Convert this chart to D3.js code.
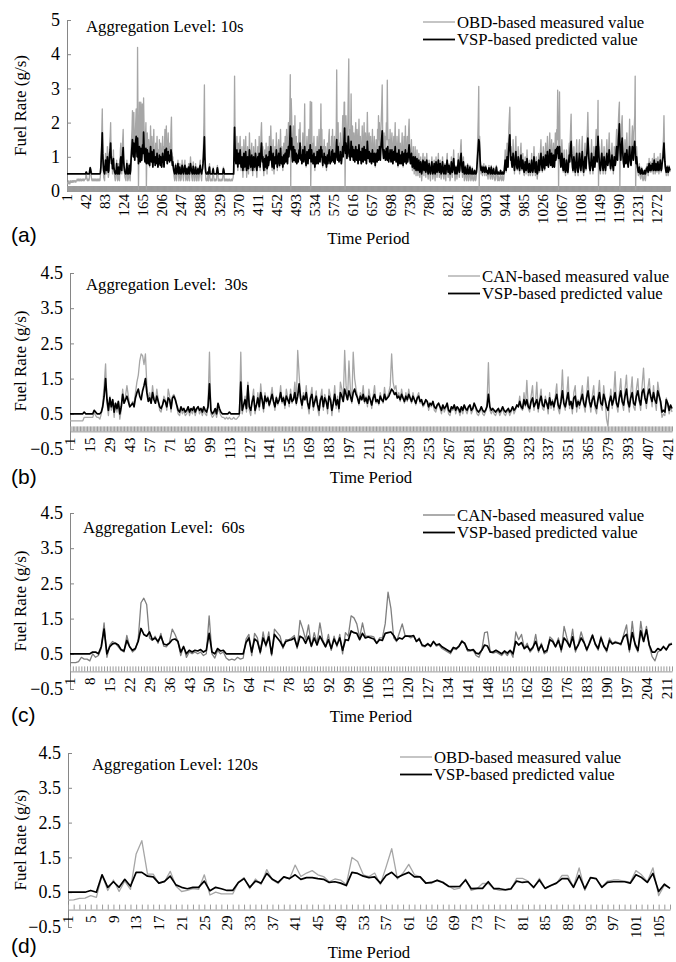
<!DOCTYPE html>
<html>
<head>
<meta charset="utf-8">
<script src="https://cdn.jsdelivr.net/npm/d3@7"></script>
<style>
  body { margin: 0; background: #fff; }
  svg { display: block; }
</style>
</head>
<body>
<svg id="chart" width="676" height="962"></svg>
<script>
// ---- data ----
const aPredicted = [
  0.5,0.5,0.5,0.5,0.5,0.5,0.5,0.5,0.5,0.5,0.5,0.5,0.5,0.5,0.5,0.5,0.5,0.5,0.5,0.5,
  0.5,0.5,0.5,0.5,0.5,0.5,0.5,0.5,0.5,0.5,0.5,0.5,0.5,0.5,0.5,0.5,0.5,0.5,0.5,0.5,
  0.5,0.55,0.55,0.5,0.5,0.5,0.5,0.5,0.5,0.6,0.68,0.62,0.55,0.5,0.5,0.5,0.5,0.5,0.5,0.5,
  0.5,0.5,0.5,0.5,0.5,0.5,0.5,0.5,0.5,0.5,0.5,0.5,0.55,0.7,1.0,1.3,1.7,1.1,0.8,0.6,
  0.55,0.5,0.7,0.9,0.75,0.6,0.8,1.0,0.7,0.55,0.6,0.9,1.1,1.2,1.4,1.0,0.8,0.9,0.65,0.75,
  0.95,0.7,0.6,0.55,0.5,0.5,0.6,0.8,0.6,0.5,0.55,0.7,0.5,0.5,0.6,0.9,1.0,0.75,0.6,0.9,
  1.1,1.27,0.9,0.7,0.6,0.55,0.5,0.5,0.65,0.8,0.6,0.5,0.5,0.6,0.75,0.55,0.5,0.6,0.9,1.1,
  1.3,1.5,1.2,1.0,1.4,1.1,0.9,1.2,1.45,1.6,1.3,1.0,1.55,1.2,0.8,1.0,1.3,1.1,0.85,1.25,
  1.0,0.9,1.2,1.35,1.1,1.72,1.3,1.0,0.85,1.1,1.25,0.8,0.9,1.2,1.0,0.8,1.1,0.9,0.75,1.0,
  1.3,1.0,0.85,1.15,0.9,0.7,1.0,1.2,0.85,0.95,0.75,1.0,0.8,0.9,1.1,0.85,0.7,0.95,0.8,1.05,
  0.9,0.75,1.0,0.85,0.7,0.9,1.1,0.85,0.95,0.7,1.0,1.2,0.9,1.1,1.25,0.95,0.8,1.0,1.15,0.9,
  1.05,0.85,1.0,0.9,1.2,1.1,0.9,0.75,0.85,0.7,0.6,0.55,0.5,0.6,0.75,0.55,0.5,0.55,0.65,0.8,
  0.6,0.5,0.55,0.7,0.6,0.5,0.5,0.6,0.75,0.65,0.55,0.5,0.6,0.7,0.75,0.6,0.5,0.55,0.65,0.5,
  0.5,0.6,0.7,0.55,0.5,0.65,0.8,0.7,0.6,0.55,0.5,0.6,0.72,0.6,0.5,0.5,0.55,0.7,0.6,0.5,
  0.5,0.55,0.65,0.6,0.5,0.55,0.7,0.75,0.6,0.55,0.5,0.6,0.65,0.8,1.0,1.3,1.58,1.0,0.7,0.55,
  0.5,0.5,0.5,0.55,0.5,0.5,0.65,0.7,0.55,0.5,0.5,0.5,0.5,0.5,0.6,0.65,0.55,0.5,0.5,0.5,
  0.5,0.5,0.5,0.6,0.68,0.6,0.5,0.5,0.5,0.5,0.5,0.5,0.5,0.5,0.5,0.5,0.55,0.65,0.6,0.5,
  0.5,0.5,0.5,0.5,0.5,0.5,0.5,0.5,0.5,0.5,0.5,0.5,0.5,0.5,0.5,0.5,0.5,0.5,0.5,0.5,
  1.2,1.86,1.3,0.9,0.8,1.0,1.2,0.9,0.7,1.1,0.95,0.8,1.05,1.2,0.9,0.7,0.85,1.0,0.75,0.6,
  0.8,1.1,0.9,0.7,0.95,1.15,0.85,0.6,0.75,1.0,0.8,0.65,0.9,1.2,1.0,0.8,0.7,0.9,1.05,0.8,
  0.6,0.75,1.0,0.9,0.7,0.85,1.1,0.95,0.7,0.6,0.8,1.0,0.75,0.9,1.1,0.85,0.7,0.95,1.2,1.4,
  1.1,0.85,1.0,0.75,0.6,0.8,0.95,0.7,0.85,1.05,0.8,0.65,0.9,1.0,0.75,0.85,1.15,0.9,1.0,1.3,
  1.05,0.85,0.7,0.95,1.1,0.8,0.65,0.9,1.0,0.8,0.95,1.2,0.9,0.7,0.85,1.0,1.1,0.85,0.75,1.0,
  1.25,0.95,0.8,1.0,0.85,0.7,0.9,1.05,0.8,0.95,1.1,0.85,1.0,1.2,0.9,0.8,1.1,1.3,1.0,1.2,
  1.5,1.9,1.4,1.2,1.55,1.0,0.85,1.1,1.3,0.9,1.0,1.2,0.85,0.95,1.1,0.8,0.9,1.05,0.85,1.0,
  1.2,0.95,1.4,1.1,0.9,1.05,0.8,0.95,1.2,1.0,0.85,1.1,1.3,1.0,0.9,0.75,1.0,1.15,0.9,0.8,
  1.0,1.2,0.95,1.1,1.35,1.0,0.85,1.2,0.9,1.05,0.8,0.95,1.1,0.85,0.7,0.9,1.0,0.8,0.95,1.15,
  0.9,0.8,1.0,1.2,0.95,0.85,1.05,1.3,1.0,1.2,0.9,0.75,1.0,0.85,1.1,0.9,0.8,1.0,0.85,0.7,
  0.9,1.05,0.8,0.95,1.1,1.2,0.9,0.8,1.0,0.85,1.15,0.9,1.2,1.0,0.85,0.95,1.1,0.8,0.9,1.0,
  1.2,1.5,1.1,0.9,1.3,1.0,0.85,1.05,0.9,1.15,1.0,0.8,0.95,1.1,1.3,1.0,1.2,1.5,1.84,1.3,
  1.1,1.4,1.2,0.95,1.1,1.3,1.6,1.4,1.0,1.2,0.9,1.1,1.45,1.2,1.0,1.3,1.1,0.9,1.2,1.0,
  0.85,1.15,1.3,1.0,0.9,1.2,1.05,0.8,1.1,1.35,1.0,0.9,1.15,0.95,0.8,1.0,1.25,1.0,0.85,1.1,
  1.3,1.05,0.9,1.2,1.0,0.8,1.1,1.45,1.2,0.95,1.0,1.15,0.85,0.95,1.1,0.9,0.8,1.0,1.2,0.95,
  0.85,1.0,1.1,0.9,0.75,0.95,1.1,1.0,0.85,1.2,1.0,0.9,1.1,1.3,1.05,0.9,1.2,1.4,1.55,1.76,
  1.3,1.1,0.95,1.2,1.0,1.15,0.9,1.05,1.25,1.1,0.9,1.3,1.0,0.85,1.1,0.95,1.2,1.0,0.85,1.05,
  1.2,0.95,0.8,1.0,1.15,0.9,1.1,1.3,1.0,0.85,0.95,1.1,0.9,0.75,1.0,1.2,0.95,0.8,1.05,0.9,
  0.8,1.0,1.15,0.9,0.75,0.95,1.1,0.85,1.0,1.2,0.9,0.8,1.0,1.1,0.85,1.0,1.2,1.35,1.1,0.9,
  0.8,0.95,1.1,0.85,0.7,0.9,1.0,0.8,0.65,0.85,1.0,0.75,0.6,0.8,0.95,0.7,0.6,0.75,0.9,0.7,
  0.55,0.7,0.85,0.65,0.5,0.6,0.8,0.9,0.7,0.6,0.75,0.85,0.65,0.55,0.7,0.9,0.75,0.6,0.5,0.65,
  0.8,0.7,0.55,0.5,0.6,0.75,0.85,0.65,0.5,0.55,0.7,0.8,0.6,0.5,0.65,0.85,0.7,0.55,0.6,0.75,
  0.9,0.7,0.55,0.6,0.8,0.65,0.5,0.55,0.7,0.85,0.7,0.55,0.5,0.6,0.75,0.6,0.5,0.65,0.8,0.9,
  0.7,0.55,0.6,0.75,0.6,0.5,0.5,0.65,0.85,0.7,0.55,0.6,0.8,0.95,0.75,0.6,0.5,0.55,0.7,0.6,
  0.5,0.6,0.75,0.9,0.7,0.55,0.6,0.8,1.0,1.1,0.85,0.65,0.55,0.7,0.85,0.6,0.5,0.55,0.7,0.6,
  0.5,0.5,0.6,0.75,0.55,0.5,0.5,0.6,0.7,0.55,0.5,0.5,0.55,0.65,0.5,0.5,0.5,0.55,0.6,0.5,
  0.5,0.5,0.55,0.7,0.9,1.1,1.3,1.5,1.45,1.2,0.9,0.7,0.6,0.65,0.7,0.55,0.6,0.65,0.7,0.6,
  0.55,0.6,0.7,0.65,0.55,0.6,0.55,0.5,0.6,0.68,0.6,0.55,0.5,0.6,0.7,0.55,0.5,0.5,0.6,0.65,
  0.55,0.5,0.5,0.5,0.6,0.7,0.6,0.5,0.5,0.55,0.5,0.5,0.5,0.55,0.6,0.5,0.5,0.5,0.55,0.5,
  0.5,0.5,0.6,0.75,0.9,0.7,0.6,0.8,1.0,0.85,0.7,1.1,1.3,1.5,1.64,1.2,0.9,1.0,0.8,0.7,
  0.85,1.1,0.9,0.75,0.6,0.8,1.0,1.15,0.85,0.7,0.65,0.8,1.0,0.85,0.7,0.6,0.75,0.95,1.05,0.8,
  0.65,0.7,0.9,0.75,0.6,0.55,0.7,0.85,0.7,0.6,0.75,0.95,0.8,0.65,0.55,0.6,0.8,0.7,0.55,0.6,
  0.75,0.9,0.7,0.55,0.6,0.8,1.0,0.85,0.65,0.55,0.7,0.85,0.6,0.5,0.55,0.7,0.9,0.75,0.6,0.8,
  0.95,1.1,0.85,0.7,0.6,0.8,1.0,0.9,0.7,0.65,0.85,1.05,0.9,0.75,0.95,1.15,0.9,0.7,0.85,1.0,
  1.2,0.9,0.75,0.95,1.1,0.85,0.7,0.9,1.05,0.8,0.7,0.95,1.2,0.9,1.0,1.25,1.1,1.3,1.2,0.95,
  1.1,1.3,1.0,0.85,0.7,0.9,1.1,0.95,0.7,0.6,0.8,0.95,0.75,0.6,0.55,0.7,0.9,0.8,0.6,0.55,
  0.7,0.9,1.05,0.85,1.1,1.3,1.45,1.1,0.9,0.7,0.6,0.8,1.0,0.85,0.65,0.55,0.7,0.9,1.1,0.8,
  0.6,0.55,0.7,0.95,1.1,0.9,0.7,0.6,0.8,1.0,1.15,0.85,0.65,0.55,0.7,0.9,1.0,0.8,0.65,0.9,
  1.1,1.25,1.55,1.3,1.0,0.8,0.65,0.6,0.75,0.9,1.1,0.85,0.7,0.6,0.8,1.0,0.9,0.7,0.85,1.1,
  1.3,1.0,0.85,1.2,1.6,1.3,1.0,0.8,0.65,0.6,0.75,0.95,1.1,0.9,0.7,0.6,0.8,1.0,0.85,0.7,
  0.6,0.75,0.95,1.1,0.9,0.75,0.85,1.0,1.2,0.95,0.8,0.65,0.75,0.9,1.05,0.85,0.7,0.6,0.8,1.0,
  0.9,0.75,0.85,1.1,1.3,1.1,0.9,1.2,1.5,1.7,1.96,1.4,1.1,0.9,1.2,1.4,1.55,1.2,0.95,0.8,
  0.7,0.9,1.1,0.95,0.8,1.0,1.2,1.0,0.8,0.7,0.9,1.1,1.3,1.0,0.85,0.75,0.95,1.15,1.3,1.1,
  0.9,1.2,1.3,1.45,1.2,0.95,0.8,1.0,0.85,0.7,0.6,0.55,0.6,0.7,0.6,0.5,0.5,0.55,0.65,0.6,
  0.5,0.5,0.5,0.55,0.6,0.5,0.5,0.55,0.65,0.6,0.7,0.6,0.55,0.7,0.8,0.65,0.6,0.75,0.6,0.65,
  0.7,0.8,0.65,0.6,0.75,0.9,0.7,0.6,0.65,0.8,0.75,0.6,0.7,0.85,0.7,0.6,0.65,0.75,0.9,0.7,
  0.6,0.65,0.8,0.9,1.0,1.2,1.4,1.1,0.85,0.7,0.6,0.55,0.65,0.7,0.6,0.55,0.6,0.7,0.65,0.6
];
const aMeasured = [
  0.25,0.25,0.2,0.25,0.3,0.25,0.2,0.25,0.3,0.25,0.25,0.3,0.25,0.3,0.3,0.25,0.3,0.3,0.3,0.25,
  0.3,0.3,0.35,0.3,0.3,0.35,0.3,0.3,0.35,0.3,0.35,0.3,0.3,0.35,0.35,0.3,0.35,0.3,0.35,0.35,
  0.35,0.5,0.45,0.35,0.3,0.35,0.35,0.3,0.35,0.55,0.7,0.6,0.45,0.35,0.3,0.35,0.3,0.35,0.3,0.35,
  0.3,0.35,0.3,0.35,0.3,0.3,0.35,0.3,0.35,0.3,0.35,0.3,0.45,0.8,1.2,1.8,2.4,1.3,0.7,0.4,
  0.35,0.3,0.7,1.1,0.8,0.5,0.9,1.3,0.7,0.4,0.5,1.0,1.4,1.6,2.0,1.2,0.8,1.0,0.5,0.8,
  1.2,0.7,0.5,0.4,0.3,0.35,0.6,0.9,0.5,0.3,0.4,0.8,0.35,0.3,0.6,1.2,1.4,0.8,0.5,1.1,
  1.5,1.8,1.1,0.7,0.5,0.4,0.35,0.3,0.6,0.9,0.5,0.3,0.35,0.5,0.8,0.4,0.3,0.6,1.2,1.5,
  1.8,2.35,1.6,1.2,2.3,1.4,1.0,1.6,2.0,2.4,1.8,1.1,4.2,2.0,0.05,1.2,2.6,1.5,0.9,2.6,
  1.2,1.0,2.55,2.0,1.3,2.72,1.9,1.2,0.9,1.5,2.0,0.05,1.0,1.7,1.3,0.8,1.5,1.1,0.7,1.3,
  1.9,1.3,0.9,1.6,1.1,0.7,1.3,1.8,1.0,1.2,0.8,1.4,0.9,1.1,1.6,1.0,0.7,1.2,0.9,1.5,
  1.1,0.8,1.4,1.0,0.7,1.1,1.6,1.0,1.3,0.7,1.4,1.8,1.1,1.5,1.9,1.2,0.9,1.3,1.7,1.1,
  1.4,1.0,1.3,1.1,1.8,2.16,1.2,0.8,1.0,0.7,0.5,0.4,0.3,0.5,0.8,0.4,0.3,0.45,0.7,0.9,
  0.6,0.3,0.4,0.8,0.6,0.3,0.35,0.6,0.9,0.7,0.4,0.3,0.6,0.8,0.9,0.5,0.3,0.45,0.7,0.35,
  0.3,0.6,0.8,0.4,0.3,0.7,1.0,0.8,0.55,0.4,0.3,0.6,0.85,0.5,0.3,0.3,0.45,0.8,0.6,0.3,
  0.3,0.45,0.7,0.55,0.3,0.45,0.8,0.9,0.55,0.4,0.3,0.6,0.7,1.0,1.4,2.0,3.1,1.3,0.6,0.35,
  0.3,0.3,0.35,0.45,0.3,0.3,0.7,0.8,0.4,0.3,0.3,0.35,0.3,0.3,0.55,0.7,0.45,0.3,0.3,0.35,
  0.3,0.3,0.35,0.55,0.75,0.55,0.3,0.3,0.35,0.3,0.3,0.3,0.35,0.3,0.3,0.35,0.45,0.7,0.55,0.3,
  0.3,0.35,0.3,0.3,0.35,0.3,0.3,0.35,0.3,0.3,0.35,0.3,0.3,0.3,0.35,0.3,0.3,0.35,0.4,0.6,
  1.6,3.36,1.8,1.0,0.8,1.3,1.6,1.0,0.6,1.4,1.1,0.8,1.3,1.6,1.0,0.6,0.9,1.3,0.7,0.4,
  0.8,1.5,1.0,0.6,1.1,1.6,0.9,0.4,0.7,1.3,0.8,0.5,1.0,1.7,1.2,0.8,0.6,1.0,1.4,0.8,
  0.45,0.7,1.3,1.0,0.6,0.9,1.5,1.1,0.6,0.4,0.8,1.3,0.7,1.0,1.6,0.9,0.6,1.1,1.7,2.0,
  1.4,0.9,1.3,0.7,0.45,0.8,1.2,0.6,0.9,1.4,0.8,0.5,1.0,1.3,0.7,0.9,1.6,1.0,1.3,1.9,
  1.4,0.9,0.6,1.1,1.5,0.8,0.5,1.0,1.3,0.8,1.1,1.7,1.0,0.6,0.9,1.3,1.5,0.9,0.7,1.3,
  1.8,1.2,0.8,1.3,0.9,0.6,1.0,1.4,0.8,1.1,1.6,0.9,1.3,1.8,1.0,0.8,1.5,2.0,1.2,1.7,
  2.3,3.4,0.05,2.7,2.2,1.2,0.9,1.5,1.9,1.0,1.2,2.2,0.9,1.1,1.6,0.8,1.0,1.4,0.9,1.3,
  1.8,1.1,2.0,1.4,1.0,1.3,0.8,1.1,1.7,1.2,0.9,1.5,2.55,1.2,1.0,0.7,1.3,1.6,1.0,0.8,
  1.3,1.8,1.1,1.5,2.62,0.05,0.9,2.6,1.0,1.4,0.8,1.1,1.6,0.9,0.6,1.0,1.3,0.8,1.1,1.6,
  1.0,0.8,1.3,1.8,1.1,0.9,1.4,2.55,1.2,1.8,1.0,0.7,1.3,0.9,1.5,1.0,0.8,1.3,0.9,0.6,
  1.0,1.4,0.8,1.1,1.6,1.8,1.0,0.8,1.3,0.9,1.6,1.0,1.8,1.2,0.9,1.1,1.6,0.8,1.0,1.4,
  1.8,3.54,1.4,1.0,2.0,1.2,0.9,1.4,1.0,1.7,1.2,0.8,1.1,1.6,2.2,1.2,1.8,2.6,2.6,0.05,
  1.4,2.2,1.7,1.0,1.4,2.0,3.0,3.86,1.2,1.8,1.0,1.5,2.84,1.6,1.1,1.9,1.4,0.9,1.7,1.2,
  0.9,1.6,2.0,1.2,1.0,1.8,1.4,0.8,1.5,2.1,1.2,1.0,1.6,1.1,0.8,1.3,1.9,1.2,0.9,1.5,
  2.0,1.3,1.0,1.7,1.2,0.8,1.5,2.3,1.6,1.1,1.2,1.7,0.9,1.1,1.6,1.0,0.8,1.3,1.8,1.1,
  0.9,1.2,1.6,1.0,0.7,1.1,1.5,1.2,0.9,1.8,1.3,2.2,1.5,2.0,1.3,1.0,1.7,2.1,2.5,3.1,
  1.8,1.4,1.1,1.7,1.3,1.6,1.0,1.4,2.0,1.5,3.24,1.9,1.2,0.9,1.5,1.1,1.8,1.2,0.9,1.4,
  1.7,1.1,0.8,1.3,1.6,1.0,1.5,2.0,1.2,0.9,1.1,1.6,1.0,0.7,1.3,1.8,1.1,0.8,1.4,1.0,
  0.8,1.3,1.7,1.0,0.7,1.1,1.6,0.9,1.2,1.9,1.0,0.8,1.3,1.6,0.9,1.2,1.8,2.1,1.4,1.0,
  0.8,1.1,1.5,0.9,0.6,1.0,1.3,0.8,0.5,0.9,1.3,0.7,0.45,0.8,1.2,0.6,0.45,0.7,1.1,0.6,
  0.4,0.7,1.0,0.6,0.3,0.5,0.9,1.1,0.6,0.45,0.8,1.0,0.6,0.4,0.7,1.1,0.8,0.5,0.35,0.6,
  0.9,0.7,0.4,0.3,0.6,0.8,1.0,0.6,0.35,0.45,0.7,0.9,0.5,0.3,0.65,1.0,0.7,0.4,0.5,0.8,
  1.1,0.7,0.4,0.5,0.9,0.6,0.35,0.45,0.75,1.0,0.7,0.4,0.35,0.55,0.8,0.55,0.3,0.6,0.9,1.1,
  0.7,0.4,0.55,0.8,0.55,0.3,0.35,0.6,1.0,0.75,0.4,0.55,0.9,1.2,0.8,0.5,0.3,0.45,0.75,0.5,
  0.35,0.55,0.8,1.1,0.7,0.4,0.55,0.9,1.3,1.5,1.0,0.6,0.4,0.7,1.0,0.55,0.3,0.45,0.75,0.5,
  0.35,0.3,0.55,0.8,0.45,0.3,0.35,0.55,0.75,0.45,0.3,0.35,0.5,0.7,0.35,0.3,0.3,0.45,0.6,0.35,
  0.3,0.35,0.5,0.8,1.2,1.6,2.2,3.06,0.05,1.6,1.0,0.7,0.5,0.6,0.75,0.45,0.55,0.7,0.8,0.55,
  0.45,0.55,0.75,0.65,0.45,0.55,0.5,0.35,0.55,0.75,0.55,0.45,0.35,0.55,0.75,0.45,0.35,0.35,0.55,0.7,
  0.45,0.35,0.3,0.35,0.55,0.75,0.55,0.35,0.3,0.45,0.35,0.3,0.35,0.45,0.6,0.35,0.3,0.35,0.45,0.35,
  0.3,0.35,0.6,0.9,1.2,0.8,0.55,1.0,1.4,1.0,0.7,1.5,1.9,2.2,2.45,1.5,1.0,1.3,0.9,0.7,
  1.0,1.5,1.1,0.8,0.5,0.9,1.3,1.6,1.0,0.7,0.6,0.9,1.3,1.0,0.7,0.5,0.8,1.2,1.4,0.9,
  0.6,0.7,1.1,0.8,0.5,0.45,0.7,1.0,0.7,0.5,0.8,1.2,0.9,0.6,0.45,0.55,0.9,0.7,0.45,0.55,
  0.8,1.1,0.7,0.45,0.55,0.9,1.3,1.0,0.6,0.45,0.7,1.0,0.55,0.35,0.5,0.75,1.1,0.8,0.55,0.9,
  1.2,1.5,1.0,0.7,0.55,0.9,1.3,1.1,0.7,0.6,1.0,1.4,1.1,0.8,1.2,1.6,1.1,0.7,1.0,1.3,
  1.7,1.1,0.8,1.2,1.5,1.0,0.7,1.1,1.4,0.9,0.7,1.2,1.7,1.1,1.3,1.8,1.5,2.95,1.8,0.05,
  1.5,2.9,1.3,1.0,0.7,1.1,1.5,1.2,0.7,0.55,0.9,1.2,0.8,0.55,0.45,0.75,1.2,1.0,0.6,0.5,
  0.75,1.2,1.4,1.0,1.5,1.9,2.25,1.4,1.0,0.7,0.55,0.9,1.3,1.0,0.6,0.45,0.75,1.2,1.5,0.9,
  0.55,0.45,0.75,1.3,1.5,1.1,0.7,0.55,0.9,1.3,1.6,1.0,0.6,0.45,0.75,1.2,1.4,0.9,0.6,1.1,
  1.5,1.8,2.3,1.7,1.2,0.9,0.6,0.5,0.8,1.1,1.5,1.0,0.7,0.5,0.9,1.3,1.1,0.7,1.0,1.5,
  1.8,1.2,0.9,1.7,2.65,0.05,1.3,0.9,0.6,0.5,0.8,1.2,1.5,1.1,0.7,0.5,0.9,1.3,1.0,0.7,
  0.5,0.8,1.2,1.5,1.1,0.8,1.0,1.3,1.7,1.2,0.9,0.6,0.8,1.1,1.4,1.0,0.7,0.5,0.9,1.3,
  1.1,0.8,1.0,1.5,1.8,1.4,1.1,1.6,2.1,2.4,2.6,0.05,1.3,1.0,1.6,2.0,2.2,1.5,1.1,0.8,
  0.7,1.1,1.5,1.2,0.9,1.3,1.7,1.3,0.9,0.7,1.1,1.5,2.1,1.3,1.0,0.8,1.2,1.6,1.9,1.4,
  1.0,1.7,1.9,2.2,3.36,0.05,0.9,1.3,1.0,0.7,0.55,0.45,0.6,0.8,0.6,0.4,0.35,0.45,0.7,0.6,
  0.35,0.3,0.35,0.45,0.6,0.35,0.3,0.45,0.7,0.6,0.8,0.55,0.45,0.75,0.95,0.65,0.55,0.85,0.55,0.65,
  0.75,0.95,0.6,0.5,0.8,1.1,0.7,0.5,0.6,0.95,0.8,0.55,0.7,1.0,0.7,0.5,0.6,0.8,1.1,0.7,
  0.55,0.65,0.9,1.1,1.3,1.6,2.2,1.4,0.9,0.7,0.55,0.45,0.65,0.75,0.55,0.45,0.55,0.75,0.65,0.55
];

const bPredicted = [
  0.5,0.5,0.5,0.5,0.5,0.5,0.5,0.5,0.5,0.5,0.55,0.5,0.5,0.5,0.5,0.5,0.5,0.6,0.55,0.5,
  0.5,0.5,0.55,0.7,1.0,1.5,0.9,0.6,0.95,0.7,0.9,0.55,0.8,0.65,0.85,0.5,0.7,1.05,0.8,0.9,
  1.0,0.85,0.7,0.75,0.8,0.7,0.95,1.1,1.2,1.0,0.9,1.15,1.3,1.5,1.1,0.85,0.95,0.8,1.1,0.9,
  0.8,1.0,0.85,0.7,0.65,0.75,0.9,0.85,0.7,0.95,0.9,0.65,0.95,1.0,0.9,0.75,0.6,0.55,0.7,0.6,
  0.65,0.55,0.6,0.7,0.55,0.65,0.6,0.7,0.55,0.65,0.7,0.6,0.65,0.55,0.7,0.6,0.55,0.7,1.35,0.6,
  0.5,0.55,0.65,0.5,0.8,0.65,0.55,0.5,0.5,0.5,0.5,0.5,0.55,0.5,0.5,0.5,0.5,0.5,0.5,0.5,
  1.4,0.6,0.75,0.9,0.65,1.3,0.7,0.6,0.85,1.0,0.6,0.75,0.95,0.7,1.1,0.9,0.65,1.0,0.85,0.95,
  0.75,0.9,1.05,0.85,0.7,0.95,0.8,0.9,1.1,0.85,0.95,0.75,1.0,0.9,0.8,1.05,0.85,0.9,1.1,0.8,
  1.0,1.35,0.95,0.75,1.0,0.9,1.1,0.8,0.65,0.95,1.05,0.7,0.85,1.0,0.75,0.6,0.9,1.0,0.7,0.95,
  0.85,0.65,1.0,0.9,0.6,0.8,1.05,0.75,0.9,0.65,1.1,1.0,0.85,1.2,1.05,0.9,1.15,1.0,0.85,1.1,
  1.2,1.05,0.95,0.8,1.0,0.9,1.05,0.85,0.95,0.8,1.0,0.9,0.75,0.95,1.05,0.85,0.9,0.8,1.0,0.9,
  0.85,1.05,0.9,0.95,1.0,1.1,1.2,1.15,1.05,1.1,0.95,1.0,0.9,1.05,0.95,0.85,1.0,0.9,1.05,0.95,
  0.85,1.0,0.9,0.8,0.95,1.0,0.85,0.9,0.75,0.8,0.9,0.85,0.7,0.8,0.75,0.85,0.7,0.65,0.75,0.8,
  0.7,0.6,0.75,0.65,0.7,0.8,0.6,0.55,0.7,0.65,0.75,0.6,0.7,0.65,0.55,0.7,0.6,0.75,0.65,0.6,
  0.7,0.75,0.6,0.65,0.8,0.7,0.6,0.55,0.6,0.7,0.6,0.55,0.6,0.7,1.05,0.7,0.6,0.65,0.6,0.55,
  0.6,0.65,0.55,0.6,0.7,0.6,0.55,0.6,0.65,0.55,0.6,0.7,0.6,0.65,0.75,0.7,0.85,0.7,0.65,0.9,
  0.75,0.9,0.7,0.65,0.85,0.95,0.7,0.8,0.9,0.65,0.85,1.0,0.75,0.7,0.9,0.8,0.65,0.95,0.75,0.85,
  0.7,0.9,1.05,0.75,0.65,0.85,1.15,0.8,0.7,0.9,1.1,0.75,0.85,0.65,0.95,1.0,0.7,0.85,0.75,0.9,
  1.05,0.8,0.7,0.95,1.15,0.85,0.7,0.9,1.0,0.75,0.65,0.9,1.1,0.8,0.75,1.05,0.9,0.7,0.6,0.85,
  1.0,0.75,0.9,1.1,0.8,0.7,0.95,1.15,0.85,0.75,1.0,1.2,0.85,0.7,0.95,1.1,0.8,0.75,1.0,1.15,
  0.9,0.75,1.1,1.2,0.95,0.8,1.05,1.2,1.0,0.85,1.1,0.9,0.8,1.15,1.0,0.85,0.55,0.6,0.55,0.9,
  0.8,0.6,0.75,0.65
];
const bMeasured = [
  0.3,0.3,0.3,0.3,0.3,0.3,0.3,0.3,0.3,0.3,0.4,0.4,0.4,0.4,0.4,0.4,0.4,0.55,0.45,0.4,
  0.4,0.35,0.5,0.8,1.3,1.92,0.8,0.45,1.0,0.6,0.9,0.4,0.8,0.55,0.85,0.35,0.6,1.2,0.8,1.0,
  1.3,1.0,0.7,0.75,0.85,0.8,1.1,1.4,1.6,2.0,2.2,2.15,1.9,2.2,1.3,0.9,1.1,0.8,1.3,0.95,
  0.8,1.2,0.9,0.6,0.55,0.75,1.0,0.9,0.6,1.2,1.0,0.55,1.0,1.05,0.95,0.7,0.5,0.45,0.65,0.5,
  0.6,0.45,0.5,0.7,0.45,0.6,0.5,0.65,0.45,0.6,0.7,0.5,0.6,0.45,0.65,0.5,0.45,0.8,2.25,0.5,
  0.4,0.45,0.6,0.4,0.65,0.55,0.45,0.4,0.4,0.35,0.4,0.35,0.4,0.35,0.35,0.4,0.35,0.35,0.4,0.45,
  2.25,0.5,0.7,1.0,0.55,1.4,0.6,0.45,0.9,1.2,0.5,0.75,1.1,0.6,1.35,0.9,0.55,1.1,0.8,1.0,
  0.7,0.95,1.25,0.85,0.6,1.0,0.75,0.9,1.3,0.8,1.0,0.65,1.2,0.95,0.7,1.2,0.8,0.95,1.4,0.75,
  2.3,1.6,1.0,0.65,1.1,0.9,1.3,0.75,0.5,1.0,1.25,0.6,0.85,1.15,0.65,0.45,0.95,1.2,0.6,1.05,
  0.9,0.5,1.2,1.0,0.45,0.8,1.3,0.65,1.0,0.55,1.4,1.2,0.85,2.3,1.3,0.9,2.0,1.2,0.8,2.25,
  1.5,1.2,1.0,0.75,1.1,0.9,1.3,0.8,1.0,0.7,1.2,0.95,0.65,1.0,1.3,0.8,0.9,0.75,1.1,0.9,
  0.8,1.25,0.9,1.0,1.1,1.3,2.2,1.4,1.2,1.3,0.95,1.1,0.85,1.2,0.95,0.8,1.1,0.85,1.2,0.95,
  0.8,1.1,0.9,0.75,1.0,1.1,0.8,0.9,0.7,0.75,0.9,0.85,0.6,0.75,0.7,0.85,0.6,0.55,0.7,0.8,
  0.65,0.5,0.75,0.55,0.65,0.8,0.5,0.45,0.65,0.6,0.75,0.5,0.65,0.6,0.45,0.65,0.5,0.75,0.6,0.5,
  0.65,0.75,0.5,0.6,0.8,0.65,0.5,0.45,0.55,0.7,0.5,0.45,0.55,0.8,1.95,0.6,0.5,0.6,0.5,0.45,
  0.55,0.6,0.45,0.55,0.65,0.5,0.45,0.55,0.6,0.45,0.55,0.7,0.5,0.6,0.75,0.7,1.0,0.65,0.6,1.1,
  0.7,1.45,0.65,0.55,1.0,1.3,0.6,0.8,1.4,0.55,0.9,1.2,0.65,0.6,1.0,0.8,0.5,1.1,0.65,0.9,
  0.6,1.0,1.35,0.65,0.5,0.9,1.75,0.75,0.6,1.0,1.55,0.65,0.85,0.5,1.1,1.3,0.55,0.9,0.65,1.0,
  1.3,0.75,0.55,1.05,1.55,0.8,0.55,1.0,1.3,0.65,0.5,1.0,1.45,0.75,0.6,1.3,0.9,0.35,0.15,0.8,
  1.2,0.65,1.0,1.7,0.75,0.55,1.1,1.5,0.8,0.6,1.2,1.6,0.8,0.55,1.1,1.55,0.7,0.6,1.2,1.5,
  0.85,0.6,1.3,1.8,1.0,0.65,1.2,1.5,1.0,0.7,1.3,0.85,0.6,1.4,1.1,0.7,0.4,0.5,0.45,0.95,
  0.75,0.5,0.7,0.55
];

const cPredicted = [
  0.5,0.5,0.5,0.5,0.5,0.5,0.5,0.5,0.55,0.55,0.5,0.7,1.2,0.5,0.7,0.78,0.8,0.75,0.62,0.58,
  0.88,0.7,0.6,0.65,0.85,1.22,1.05,1.0,1.12,0.9,0.95,0.85,1.0,0.78,0.75,0.8,0.9,0.92,0.85,0.55,
  0.7,0.5,0.6,0.55,0.6,0.58,0.62,0.55,0.6,1.08,0.55,0.5,0.65,0.58,0.6,0.5,0.5,0.5,0.5,0.5,
  0.5,0.5,0.82,0.95,0.55,0.92,0.85,0.55,0.95,0.75,0.98,0.5,1.05,0.95,0.85,0.7,0.85,0.88,0.9,0.95,
  0.7,1.0,0.95,0.8,1.0,0.72,0.95,0.75,1.0,0.85,0.7,0.9,0.65,0.92,0.75,0.95,0.6,0.9,0.88,1.15,
  1.1,1.08,0.9,1.08,0.95,0.98,0.95,0.92,0.8,0.9,0.88,1.08,1.1,1.12,1.02,0.88,0.95,0.92,1.0,1.0,
  1.0,1.02,0.85,0.92,0.75,0.72,0.78,0.72,0.85,0.75,0.78,0.7,0.65,0.6,0.55,0.68,0.65,0.72,0.85,0.8,
  0.62,0.6,0.62,0.52,0.5,0.6,0.75,0.72,0.55,0.55,0.6,0.55,0.5,0.58,0.52,0.6,0.5,0.85,0.75,0.82,
  0.65,0.72,0.6,0.68,0.85,0.6,0.75,0.55,0.6,0.9,0.85,0.7,0.88,0.62,0.95,0.85,0.7,0.98,0.62,0.75,
  0.95,0.82,0.62,0.8,1.02,0.78,0.65,0.95,0.72,0.6,0.88,0.78,0.82,0.8,0.78,0.98,1.05,0.62,1.1,0.78,
  0.6,1.15,0.85,1.18,0.75,0.55,0.55,0.65,0.6,0.7,0.62,0.75,0.78
];
const cMeasured = [
  0.25,0.25,0.25,0.28,0.4,0.35,0.35,0.3,0.5,0.4,0.45,0.65,1.38,0.4,0.75,0.85,0.8,0.7,0.6,0.55,
  1.02,0.7,0.55,0.62,0.9,1.95,2.08,1.9,0.95,0.88,1.0,0.8,1.08,0.72,0.7,0.82,1.2,1.05,0.85,0.45,
  0.72,0.4,0.55,0.5,0.55,0.5,0.55,0.45,0.5,1.58,0.5,0.38,0.6,0.5,0.55,0.38,0.32,0.35,0.32,0.4,
  0.35,0.38,0.92,1.05,0.45,1.08,0.95,0.5,1.12,0.7,1.12,0.45,1.2,1.1,1.0,0.65,0.9,0.9,0.95,1.02,
  0.65,1.45,1.2,0.9,1.32,0.7,1.1,0.8,1.38,0.9,0.7,1.05,0.6,1.0,0.7,1.05,0.5,1.1,1.0,1.58,
  1.52,1.35,0.95,1.38,1.0,1.0,1.0,0.98,0.8,0.95,0.95,1.35,2.25,1.8,0.95,0.85,1.1,1.35,1.02,1.0,
  0.95,1.0,0.85,0.95,0.72,0.7,0.8,0.7,0.85,0.72,0.75,0.65,0.6,0.55,0.5,0.65,0.62,0.7,0.88,0.78,
  0.58,0.58,0.6,0.45,0.4,0.6,1.1,1.12,0.55,0.52,0.55,0.5,0.45,0.55,0.45,0.58,0.4,1.12,0.9,1.05,
  0.65,0.8,0.55,0.65,1.05,0.55,0.8,0.5,0.55,0.98,0.9,0.7,0.95,0.55,1.28,0.95,0.68,1.2,0.55,0.78,
  1.12,0.85,0.58,0.85,1.05,0.75,0.6,1.0,0.7,0.55,0.95,0.8,0.85,0.82,0.75,1.05,1.32,0.55,1.42,0.72,
  0.55,1.42,0.85,1.28,0.72,0.42,0.3,0.55,0.6,0.72,0.6,0.78,0.8
];

const dPredicted = [
  0.5,0.5,0.5,0.5,0.55,0.5,1.0,0.64,0.8,0.64,0.87,0.67,1.07,1.07,0.96,0.94,0.76,0.81,0.96,0.71,
  0.64,0.6,0.64,0.64,0.82,0.54,0.64,0.6,0.55,0.55,0.78,0.89,0.64,0.82,0.76,1.04,0.87,0.78,0.94,0.89,
  1.0,0.87,0.92,0.92,0.89,0.87,0.78,0.8,0.76,0.69,1.07,1.04,0.96,0.92,0.94,0.76,0.98,1.07,0.92,1.0,
  1.07,0.94,0.94,0.76,0.78,0.84,0.78,0.67,0.66,0.67,0.85,0.6,0.61,0.61,0.8,0.6,0.6,0.57,0.6,0.82,
  0.78,0.8,0.64,0.85,0.61,0.69,0.76,0.89,0.89,0.64,0.98,0.6,0.92,0.89,0.64,0.78,0.8,0.8,0.8,0.76,
  1.0,0.92,0.78,1.04,0.52,0.73,0.61
];
const dMeasured = [
  0.27,0.28,0.32,0.33,0.4,0.35,1.0,0.55,0.85,0.52,0.82,0.58,1.6,1.98,1.02,1.02,0.75,0.8,1.1,0.68,
  0.52,0.55,0.6,0.58,1.0,0.42,0.5,0.45,0.45,0.45,0.78,0.92,0.6,0.88,0.72,1.15,0.85,0.75,0.95,0.88,
  1.28,0.95,1.05,1.12,1.0,0.95,0.8,0.88,0.85,0.72,1.5,1.38,1.0,0.95,1.05,0.72,1.22,1.75,0.88,1.05,
  1.3,1.0,0.95,0.78,0.75,0.85,0.8,0.68,0.58,0.62,0.88,0.55,0.6,0.75,0.75,0.6,0.55,0.55,0.58,0.9,
  0.9,0.82,0.62,0.9,0.62,0.68,0.75,0.98,0.98,0.65,1.2,0.55,0.92,0.88,0.65,0.82,0.85,0.85,0.82,0.78,
  1.12,1.0,0.8,1.2,0.4,0.7,0.62
];

const yTicksA = [0, 1, 2, 3, 4, 5];
const yTicksBCD = [-0.5, 0.5, 1.5, 2.5, 3.5, 4.5];

// ---- layout ----
const serif = "'Liberation Serif', 'Times New Roman', serif";
const sans = "'Liberation Sans', Arial, sans-serif";
const axisGray = "#868686";
const textSize = 16.7;

const panels = [
  { tag: "(a)", level: "Aggregation Level: 10s", measLabel: "OBD-based measured value",
    measured: aMeasured, predicted: aPredicted, yDomain: [0, 5], yTicks: yTicksA,
    x0: 67, x1: 670, yTop: 20, yBottom: 191, labelEvery: 41, labelGap: 3, measColor: "#a6a6a6",
    aggX: 86, aggY: 32, legX: 423, legY: 22, timeY: 244, tagY: 242 },
  { tag: "(b)", level: "Aggregation Level:  30s", measLabel: "CAN-based measured value",
    measured: bMeasured, predicted: bPredicted, yDomain: [-0.5, 4.5], yTicks: yTicksBCD,
    x0: 70, x1: 672, yTop: 273, yBottom: 449, labelEvery: 14, labelGap: 6, measColor: "#a6a6a6",
    aggX: 86, aggY: 290, legX: 448, legY: 276, timeY: 483, tagY: 484 },
  { tag: "(c)", level: "Aggregation Level:  60s", measLabel: "CAN-based measured value",
    measured: cMeasured, predicted: cPredicted, yDomain: [-0.5, 4.5], yTicks: yTicksBCD,
    x0: 70, x1: 672, yTop: 513, yBottom: 689, labelEvery: 7, labelGap: 6, measColor: "#7f7f7f",
    aggX: 83, aggY: 533, legX: 423, legY: 515, timeY: 722, tagY: 722 },
  { tag: "(d)", level: "Aggregation Level: 120s", measLabel: "OBD-based measured value",
    measured: dMeasured, predicted: dPredicted, yDomain: [-0.5, 4.5], yTicks: yTicksBCD,
    x0: 68, x1: 670, yTop: 753, yBottom: 927, labelEvery: 4, labelGap: 6, measColor: "#a6a6a6",
    aggX: 92, aggY: 770, legX: 400, legY: 757, timeY: 958, tagY: 953 }
];

const svg = d3.select("#chart");

panels.forEach((p) => {
  const n = p.predicted.length;
  const cats = d3.range(1, n + 1);
  const x = d3.scalePoint().domain(cats).range([p.x0, p.x1]);
  const y = d3.scaleLinear().domain(p.yDomain).range([p.yBottom, p.yTop]);
  const g = svg.append("g");

  // y axis
  g.append("g")
    .attr("transform", `translate(${p.x0},0)`)
    .call(d3.axisLeft(y).tickValues(p.yTicks).tickSize(-4).tickSizeOuter(0).tickPadding(7)
      .tickFormat((d) => (p.yDomain[0] < 0 ? d3.format(".1f")(d) : d)))
    .call((a) => a.selectAll("line,path").attr("stroke", axisGray))
    .call((a) => a.selectAll("text").attr("font-family", serif).attr("font-size", 18).attr("fill", "#000"));

  // x axis at zero, a tick mark on every category
  g.append("g")
    .attr("transform", `translate(0,${y(0)})`)
    .call(d3.axisTop(x).tickValues(cats).tickSize(5).tickSizeOuter(0).tickFormat(""))
    .call((a) => a.selectAll("line,path").attr("stroke", "#9a9a9a").attr("stroke-width", 1));

  // category labels hang just under the zero line
  g.append("g")
    .selectAll("text")
    .data(cats.filter((c) => (c - 1) % p.labelEvery === 0))
    .join("text")
    .attr("transform", (c) => `translate(${x(c)},${y(0) + p.labelGap}) rotate(-90)`)
    .attr("text-anchor", "end")
    .attr("dy", "0.35em")
    .attr("font-family", serif)
    .attr("font-size", 15)
    .text((c) => c);

  const line = (vals) => d3.line().x((d, i) => x(cats[i])).y((d) => y(d))(vals);

  g.append("path").attr("d", line(p.measured))
    .attr("fill", "none").attr("stroke", p.measColor).attr("stroke-width", 1.3)
    .attr("stroke-linejoin", "round");
  g.append("path").attr("d", line(p.predicted))
    .attr("fill", "none").attr("stroke", "#000").attr("stroke-width", 1.7)
    .attr("stroke-linejoin", "round");

  // texts
  g.append("text").attr("x", p.aggX).attr("y", p.aggY)
    .attr("font-family", serif).attr("font-size", textSize)
    .style("white-space", "pre").text(p.level);

  const leg = [
    { label: p.measLabel, color: p.measColor, w: 1.3 },
    { label: "VSP-based predicted value", color: "#000", w: 1.8 }
  ];
  leg.forEach((l, i) => {
    const ly = p.legY + i * 17.5;
    g.append("line").attr("x1", p.legX).attr("x2", p.legX + 32).attr("y1", ly).attr("y2", ly)
      .attr("stroke", l.color).attr("stroke-width", l.w);
    g.append("text").attr("x", p.legX + 34).attr("y", ly).attr("dy", "0.35em")
      .attr("font-family", serif).attr("font-size", textSize).text(l.label);
  });

  g.append("text").attr("x", (p.x0 + p.x1) / 2).attr("y", p.timeY)
    .attr("text-anchor", "middle").attr("font-family", serif).attr("font-size", textSize)
    .text("Time Period");

  g.append("text")
    .attr("transform", `translate(20,${(p.yTop + p.yBottom) / 2}) rotate(-90)`)
    .attr("text-anchor", "middle").attr("dy", "0.35em")
    .attr("font-family", serif).attr("font-size", 17)
    .text("Fuel Rate (g/s)");

  g.append("text").attr("x", 11).attr("y", p.tagY)
    .attr("font-family", sans).attr("font-size", 21).text(p.tag);
});
</script>
</body>
</html>
